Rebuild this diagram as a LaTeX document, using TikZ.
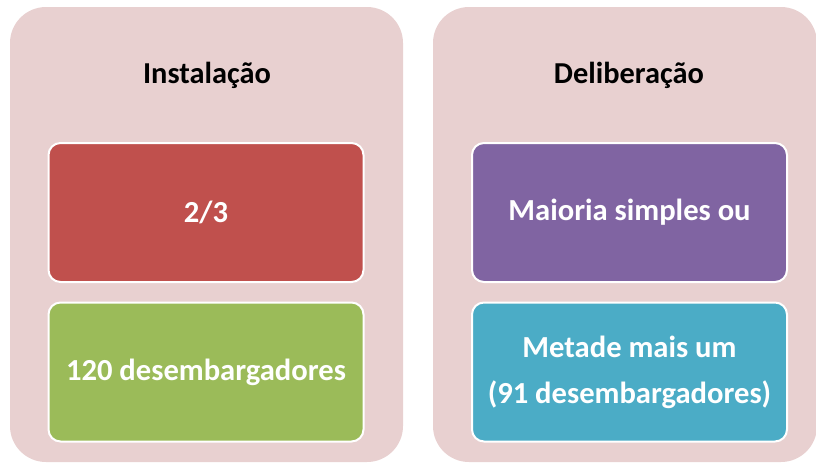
\documentclass[tikz,border=0pt]{standalone}
\usepackage{fontspec}
\setmainfont{Carlito}
\usetikzlibrary{positioning}

\definecolor{panelpink}{HTML}{E8D0D0}
\definecolor{boxred}{HTML}{C0504D}
\definecolor{boxgreen}{HTML}{9BBB59}
\definecolor{boxpurple}{HTML}{8064A2}
\definecolor{boxteal}{HTML}{4BACC6}

\tikzset{
  panel/.style={fill=panelpink, rounded corners=18pt, inner sep=0pt},
  title/.style={font=\fontsize{15.2}{18}\selectfont\bfseries, text=black},
  card/.style={draw=white, line width=1pt, rounded corners=6pt, inner sep=0pt,
    minimum width=157.5pt, minimum height=69.5pt, text=white, align=center,
    font=\fontsize{15.3}{23}\selectfont\bfseries}
}

\begin{document}
\begin{tikzpicture}[x=0.5pt,y=-0.5pt]
\useasboundingbox (0,0) rectangle (816,463);
% panels
\node[panel, minimum width=196.5pt, minimum height=227.5pt] (inst) at (206.5,234.5) {};
\node[panel, minimum width=192pt, minimum height=227.5pt] (delib) at (625,234.5) {};
% titles
\node[title] (instT) at (207,75) {Instalação};
\node[title] (delibT) at (629,75) {Deliberação};
% cards
\node[card, fill=boxred] (quorum) at (206,212.5) {2/3};
\node[card, fill=boxgreen] (num) at (206,372) {120 desembargadores};
\node[card, fill=boxpurple] (maioria) at (629.5,212.5) {Maioria simples ou};
\node[card, fill=boxteal] (metade) at (629.5,372) {Metade mais um\\(91 desembargadores)};
\end{tikzpicture}
\end{document}
